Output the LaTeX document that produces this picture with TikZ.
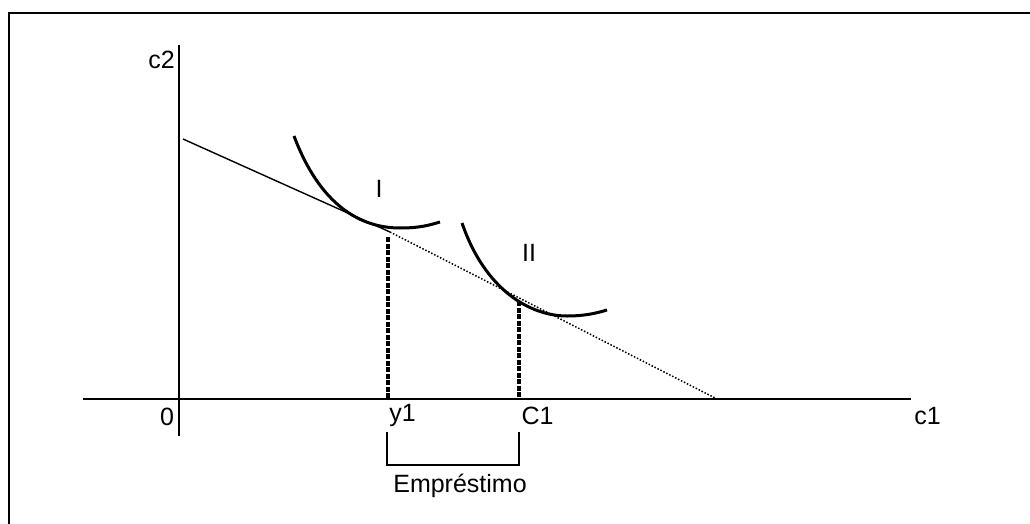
\documentclass[tikz,border=0pt]{standalone}
\usepackage{fontspec}
\setmainfont{Liberation Sans}
\usetikzlibrary{calc}
\tikzset{
  frameline/.style={draw=black,line width=2pt},
  axisline/.style={draw=black,line width=2pt},
  budget/.style={draw=black,line width=1.4pt},
  budgetdot/.style={draw=black,line width=1.5pt,dash pattern=on 1.5pt off 1.8pt},
  indiff/.style={draw=black,line width=3pt},
  dropline/.style={draw=black,line width=3.5pt,dash pattern=on 5pt off 1.5pt},
  bracketline/.style={draw=black,line width=1.6pt},
  lbl/.style={font=\fontsize{25}{29}\selectfont,inner sep=0pt,anchor=base}
}
\begin{document}
\begin{tikzpicture}[x=1pt,y=-1pt]
  \useasboundingbox (0,0) rectangle (1030,524);

  % Frame
  \draw[frameline] (1030,13) -- (9,13) -- (9,524);

  % Axes
  \coordinate (ytop) at (179,45);
  \coordinate (ybot) at (179,436);
  \coordinate (xleft) at (83,399);
  \coordinate (xright) at (911,399);
  \draw[axisline] (ytop) -- (ybot);
  \draw[axisline] (xleft) -- (xright);
  \node[lbl] (c2) at (161.5,69) {c2};
  \node[lbl] (origin) at (167,425) {0};
  \node[lbl] (c1) at (927.5,424) {c1};

  % Budget line
  \coordinate (bstart) at (183,139);
  \coordinate (bfirst) at (390,232);
  \coordinate (bend) at (717,399);
  \draw[budget] (bstart) -- (bfirst);
  \draw[budgetdot] (bfirst) -- (bend);

  % Indifference curves
  \draw[indiff] (294,136) .. controls (320,205) and (360,228) .. (400,228)
    .. controls (420,228) and (430,225) .. (440,222);
  \draw[indiff] (462,223) .. controls (485,290) and (530,316) .. (567,316)
    .. controls (585,316) and (597,313) .. (607,310);
  \node[lbl] (curveI) at (379,197) {I};
  \node[lbl] (curveII) at (529,261) {II};

  % Endowment and consumption
  \coordinate (ytopdrop) at (388,237);
  \coordinate (ctopdrop) at (519,301);
  \draw[dropline] (ytopdrop) -- (ytopdrop |- xleft);
  \draw[dropline] (ctopdrop) -- (ctopdrop |- xleft);
  \node[lbl] (y1) at (402.5,421) {y1};
  \node[lbl] (C1) at (537.5,424) {C1};

  % Loan bracket
  \draw[bracketline] (387,432) -- (387,465) -- (519,465) -- (519,432);
  \node[lbl] (loan) at (460,492) {Empréstimo};
\end{tikzpicture}
\end{document}
